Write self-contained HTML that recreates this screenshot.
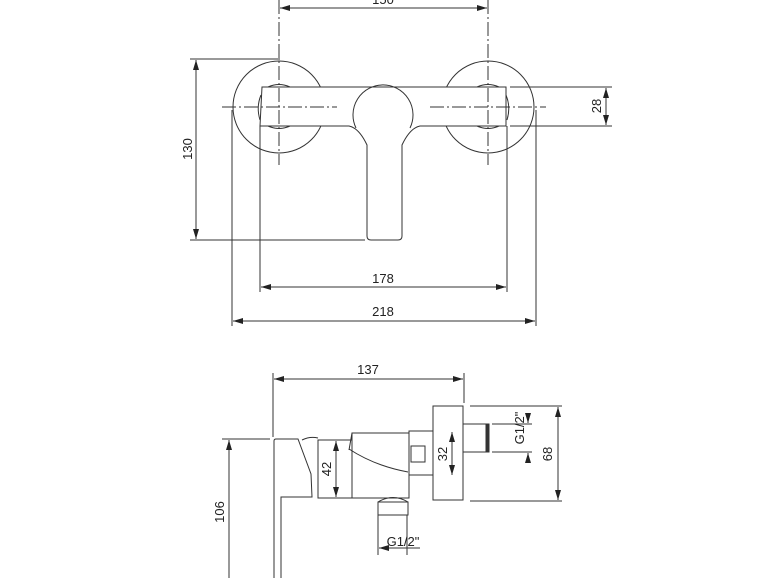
<!DOCTYPE html>
<html><head><meta charset="utf-8"><style>
html,body{margin:0;padding:0;background:#fff;}
svg{display:block;}
text{font-family:"Liberation Sans",sans-serif;font-size:13px;fill:#222;}
</style></head><body>
<svg width="770" height="578" viewBox="0 0 770 578" xmlns="http://www.w3.org/2000/svg">
<defs>
<marker id="a" viewBox="0 0 10 6" refX="10" refY="3" markerWidth="10" markerHeight="6" orient="auto-start-reverse" markerUnits="userSpaceOnUse"><path d="M0,0L10,3L0,6z" fill="#222"/></marker>
</defs>
<g stroke="#333" stroke-width="1" fill="none">
<circle cx="279" cy="107" r="46"/>
<circle cx="488" cy="107" r="46"/>
<path d="M262,87 L506,87 L506,126 L420,126 Q410,128 402,145 L402,236 Q402,240 398,240 L371,240 Q367,240 367,236 L367,145 Q359,128 349,126 L260,126 Z" fill="#fff"/>
<path d="M356,128 A30,30 0 1 1 410,128"/>
<path d="M261,95 Q256,107 260,120" />
<path d="M506,95 Q511,107 507,120" />
<path d="M268,87 Q279,82 290,87"/><path d="M268,126 Q279,131 290,126"/>
<path d="M477,87 Q488,82 499,87"/><path d="M477,126 Q488,131 499,126"/>
<g stroke-dasharray="14,3,2,3">
<line x1="222" y1="107" x2="337" y2="107"/>
<line x1="430" y1="107" x2="546" y2="107"/>
<line x1="279" y1="0" x2="279" y2="165"/>
<line x1="488" y1="0" x2="488" y2="165"/>
</g>
<line x1="190" y1="59" x2="280" y2="59"/>
<line x1="190" y1="240" x2="365" y2="240"/>
<line x1="510" y1="87" x2="612" y2="87"/>
<line x1="510" y1="126" x2="612" y2="126"/>
<line x1="260" y1="126" x2="260" y2="292"/>
<line x1="507" y1="126" x2="507" y2="292"/>
<line x1="232" y1="110" x2="232" y2="326"/>
<line x1="536" y1="110" x2="536" y2="326"/>
<line x1="280" y1="8" x2="487" y2="8" marker-start="url(#a)" marker-end="url(#a)"/>
<line x1="196" y1="60" x2="196" y2="239" marker-start="url(#a)" marker-end="url(#a)"/>
<line x1="606" y1="88" x2="606" y2="125" marker-start="url(#a)" marker-end="url(#a)"/>
<line x1="261" y1="287" x2="506" y2="287" marker-start="url(#a)" marker-end="url(#a)"/>
<line x1="233" y1="321" x2="535" y2="321" marker-start="url(#a)" marker-end="url(#a)"/>

<line x1="273" y1="373" x2="273" y2="437"/>
<line x1="464" y1="373" x2="464" y2="403"/>
<line x1="274" y1="379" x2="463" y2="379" marker-start="url(#a)" marker-end="url(#a)"/>
<path d="M274,578 L274,441 Q274,439 276,439 L298,439 L311,474 L312,497 L281,497 L281,578"/>
<path d="M302,440 Q310,436 318,438"/>
<rect x="318" y="440" width="34" height="58"/>
<path d="M352,498 L352,433 L409,433 L409,498 Z"/>
<path d="M352,433 L349,450"/>
<path d="M349,449 Q375,466 408,472"/>
<rect x="409" y="431" width="24" height="44"/>
<rect x="411" y="446" width="14" height="16"/>
<rect x="433" y="406" width="30" height="94"/>
<rect x="463" y="424" width="26" height="28"/>
<line x1="487" y1="424" x2="487" y2="452" stroke-width="3"/>
<path d="M378,502 Q393,493 408,502"/>
<rect x="378" y="502" width="30" height="13"/>
<line x1="378" y1="515" x2="378" y2="555"/>
<line x1="407" y1="515" x2="407" y2="555"/>
<line x1="379" y1="548" x2="420" y2="548" marker-start="url(#a)"/>
<line x1="222" y1="439" x2="270" y2="439"/>
<line x1="229" y1="440" x2="229" y2="578" marker-start="url(#a)"/>
<line x1="336" y1="441" x2="336" y2="497" marker-start="url(#a)" marker-end="url(#a)"/>
<line x1="452" y1="432" x2="452" y2="475" marker-start="url(#a)" marker-end="url(#a)"/>
<line x1="470" y1="406" x2="562" y2="406"/>
<line x1="470" y1="501" x2="562" y2="501"/>
<line x1="558" y1="407" x2="558" y2="500" marker-start="url(#a)" marker-end="url(#a)"/>
<line x1="492" y1="424" x2="532" y2="424"/>
<line x1="492" y1="452" x2="532" y2="452"/>
<line x1="528" y1="416" x2="528" y2="423" marker-end="url(#a)"/>
<line x1="528" y1="460" x2="528" y2="453" marker-end="url(#a)"/>
</g>
<text x="383" y="4" text-anchor="middle">150</text>
<text x="383" y="283" text-anchor="middle">178</text>
<text x="383" y="316" text-anchor="middle">218</text>
<text transform="translate(192,149) rotate(-90)" text-anchor="middle">130</text>
<text transform="translate(601,106) rotate(-90)" text-anchor="middle">28</text>
<text x="368" y="374" text-anchor="middle">137</text>
<text transform="translate(224,512) rotate(-90)" text-anchor="middle">106</text>
<text transform="translate(331,469) rotate(-90)" text-anchor="middle">42</text>
<text transform="translate(447,454) rotate(-90)" text-anchor="middle">32</text>
<text transform="translate(552,454) rotate(-90)" text-anchor="middle">68</text>
<text transform="translate(524,428) rotate(-90)" text-anchor="middle">G1/2"</text>
<text x="403" y="546" text-anchor="middle">G1/2"</text>
</svg>
</body></html>
